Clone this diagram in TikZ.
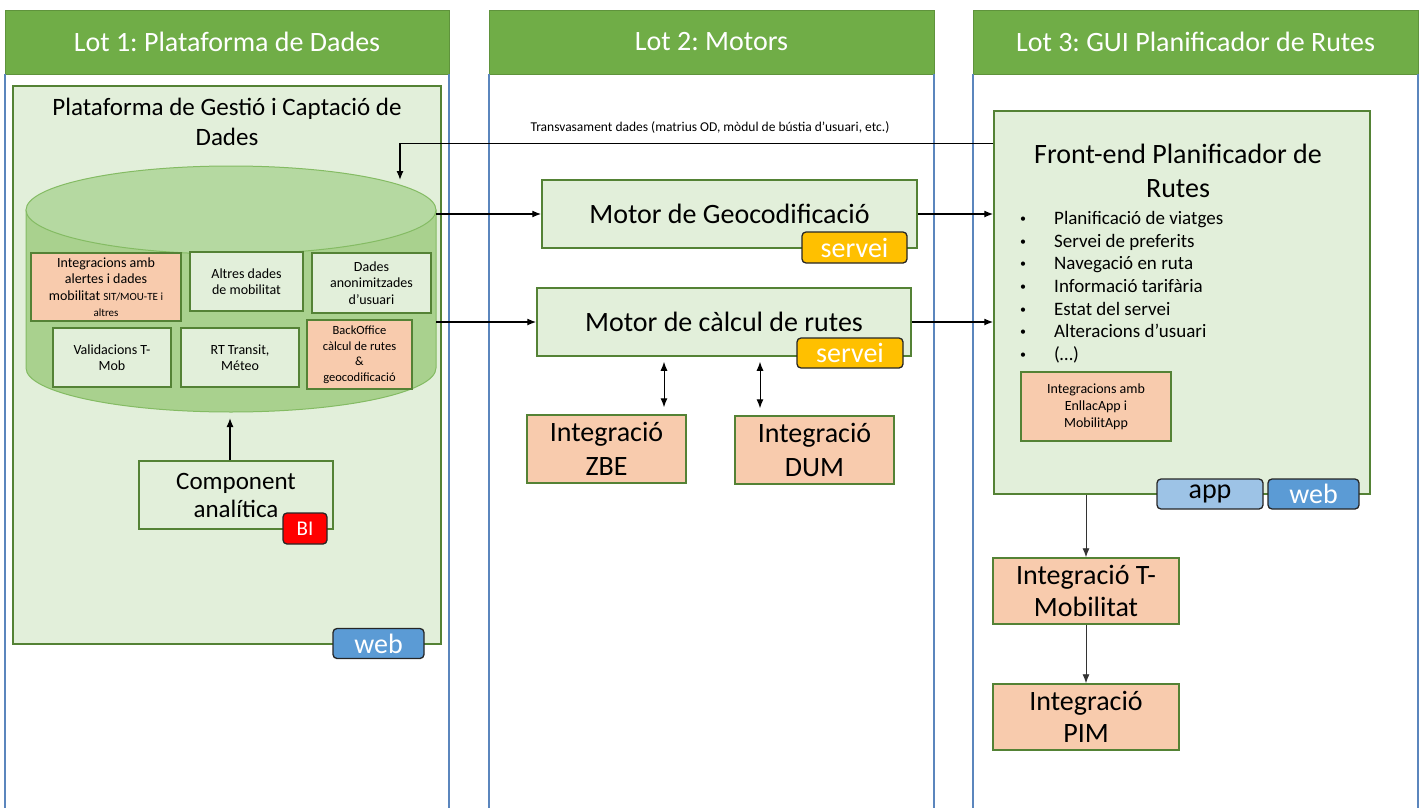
\documentclass[tikz,border=0pt]{standalone}
\usepackage{fontspec}
\setmainfont{Carlito}
\usepackage{tikz}
\usetikzlibrary{positioning, arrows.meta}

\definecolor{lotgreen}{HTML}{70AD47}
\definecolor{boxgreen}{HTML}{E2EFDA}
\definecolor{edgegreen}{HTML}{548235}
\definecolor{salmon}{HTML}{F8CBAD}
\definecolor{dbgreen}{HTML}{A9D18E}
\definecolor{dbtopgreen}{HTML}{B5D9A1}
\definecolor{dbedge}{HTML}{84BB63}
\definecolor{laneblue}{HTML}{5B86BD}
\definecolor{badgeyellow}{HTML}{FFC000}
\definecolor{badgeblue}{HTML}{5B9BD5}
\definecolor{badgelight}{HTML}{9DC3E6}

\newcommand{\frontitem}{\makebox[38pt][l]{\hspace{4pt}\raisebox{2pt}{\fontsize{12}{12}\selectfont\textbullet}}}

\frenchspacing

\begin{document}
\begin{tikzpicture}[x=1pt, y=-1pt, >={Latex[length=9pt, width=7pt]},
    lot/.style={rectangle, draw=lotgreen!85!black, fill=lotgreen, text=white, inner sep=0,
        minimum height=64pt, font=\fontsize{28}{32}\selectfont},
    comp/.style={rectangle, draw=edgegreen, line width=1.5pt, fill=boxgreen, inner sep=1pt, align=center},
    integ/.style={comp, fill=salmon},
    badge/.style={rectangle, rounded corners=4pt, draw=black!85, line width=1.3pt, inner sep=0,
        minimum height=30pt, font=\fontsize{28}{30}\selectfont},
    lane/.style={draw=laneblue, line width=1.5pt},
    link/.style={->, line width=1.3pt}]

    \useasboundingbox (0,0) rectangle (1424,808);

    % Lots
    \node (lot1)[lot, minimum width=444pt] at (227,42) {Lot 1: Plataforma de Dades};
    \node (lot2)[lot, minimum width=445pt] at (711.5,42) {Lot 2: Motors};
    \node (lot3)[lot, minimum width=445pt] at (1195.5,42) {Lot 3: GUI Planificador de Rutes};
    \foreach \l in {lot1,lot2,lot3} {
        \draw[lane] (\l.south west) -- (\l.south west |- 0,808);
        \draw[lane] (\l.south east) -- (\l.south east |- 0,808);
    }

    % Plataforma de dades
    \node (plat)[comp, minimum width=428pt, minimum height=558pt] at (227,365) {};
    \node (platT)[font=\fontsize{25}{30}\selectfont, align=center] at (227,122) {Plataforma de Gestió i Captació de\\Dades};

    % Cylinder
    \filldraw[fill=dbgreen, draw=dbedge, line width=1pt] (26,210) -- (26,368)
        arc[start angle=180, end angle=360, x radius=205pt, y radius=44pt] -- (436,210) -- cycle;
    \filldraw[fill=dbtopgreen, draw=dbedge, line width=1pt] (231,210) ellipse [x radius=205pt, y radius=44pt];
    \node (db)[rectangle, minimum width=410pt, minimum height=246pt] at (231,289) {};
    \coordinate (dbin) at (400,180);
    \coordinate (dbbot) at (230,418);

    \node (alert)[integ, minimum width=150pt, minimum height=68pt, font=\fontsize{14}{16.5}\selectfont] at (106,287)
        {Integracions amb\\alertes i dades\\mobilitat {\fontsize{11}{13}\selectfont SIT/MOU-TE i}\\{\fontsize{11}{13}\selectfont altres}};
    \node (altres)[comp, minimum width=113pt, minimum height=59pt, font=\fontsize{14}{16.5}\selectfont] at (246.5,281.5)
        {Altres dades\\de mobilitat};
    \node (anon)[comp, minimum width=119pt, minimum height=60pt, font=\fontsize{14}{16.5}\selectfont] at (371.5,283)
        {Dades\\anonimitzades\\d’usuari};
    \node (valid)[comp, minimum width=118pt, minimum height=59pt, font=\fontsize{14}{16.5}\selectfont] at (112,357.5)
        {Validacions T-\\Mob};
    \node (rt)[comp, minimum width=118pt, minimum height=59pt, font=\fontsize{14}{16.5}\selectfont] at (240,357.5)
        {RT Transit,\\Méteo};
    \node (back)[integ, minimum width=105pt, minimum height=69pt, font=\fontsize{12.5}{15.5}\selectfont] at (359.5,354.5)
        {BackOffice\\càlcul de rutes\\\&\\geocodificació};

    % Component analitica
    \node (anal)[comp, line width=1.2pt, minimum width=194pt, minimum height=68pt, font=\fontsize{25}{28}\selectfont] at (236,495)
        {Component\\analítica};
    \node (bi)[badge, fill=red, text=white, minimum width=44pt, minimum height=31pt, font=\fontsize{21}{24}\selectfont] at (305,528.5) {BI};
    \node (web1)[badge, fill=badgeblue, text=white, minimum width=91pt] at (378.5,643.5) {web};

    % Motors
    \node (trans)[font=\fontsize{13.5}{16}\selectfont] at (710,127)
        {Transvasament dades (matrius OD, mòdul de bústia d’usuari, etc.)};
    \node (geo)[comp, minimum width=375pt, minimum height=68pt, font=\fontsize{28}{32}\selectfont] at (729.5,214)
        {Motor de Geocodificació};
    \node (serv1)[badge, fill=badgeyellow, text=white, minimum width=105pt, minimum height=31pt] at (854.5,247.5) {servei};
    \node (calc)[comp, minimum width=374pt, minimum height=68pt, font=\fontsize{28}{32}\selectfont] at (724,322)
        {Motor de càlcul de rutes};
    \node (serv2)[badge, fill=badgeyellow, text=white, minimum width=106pt] at (850,353) {servei};
    \node (zbe)[integ, minimum width=159pt, minimum height=68pt, font=\fontsize{28}{34}\selectfont] at (606.5,449)
        {Integració\\ZBE};
    \node (dum)[integ, minimum width=159pt, minimum height=68pt, font=\fontsize{28}{34}\selectfont] at (814.5,450)
        {Integració\\DUM};

    % GUI planificador
    \node (front)[comp, minimum width=376pt, minimum height=383pt] at (1182,302.5) {};
    \node (frontT)[font=\fontsize{28}{34}\selectfont, align=center] at (1178,171) {Front-end Planificador de\\Rutes};
    \node (items)[anchor=north west, inner sep=0, align=left, font=\fontsize{19}{22.7}\selectfont] at (1016,211)
        {\frontitem Planificació de viatges\\
         \frontitem Servei de preferits\\
         \frontitem Navegació en ruta\\
         \frontitem Informació tarifària\\
         \frontitem Estat del servei\\
         \frontitem Alteracions d’usuari\\
         \frontitem (…)};
    \node (enllac)[integ, minimum width=150pt, minimum height=69pt, font=\fontsize{14}{17}\selectfont] at (1096,406.5)
        {Integracions amb\\EnllacApp i\\MobilitApp};
    \node (app)[badge, fill=badgelight, minimum width=106pt] at (1210,494) {app};
    \node (web3)[badge, fill=badgeblue, text=white, minimum width=91pt] at (1313.5,494) {web};
    \node (tmob)[integ, minimum width=186pt, minimum height=66pt, font=\fontsize{28}{32}\selectfont] at (1086,591)
        {Integració T-\\Mobilitat};
    \node (pim)[integ, minimum width=186pt, minimum height=66pt, font=\fontsize{28}{32}\selectfont] at (1086,717)
        {Integració\\PIM};

    % Edges
    \draw[link] ([yshift=-33pt]front.north west) -| (dbin);
    \draw[link] (anal.north -| dbbot) -- (dbbot);
    \draw[link] (db.east |- geo.west) -- (geo.west);
    \draw[link] (db.east |- calc.west) -- (calc.west);
    \draw[link] (geo.east) -- (front.west |- geo.east);
    \draw[link] (calc.east) -- (front.west |- calc.east);
    \draw[<->, line width=1pt, shorten <=5pt, shorten >=7pt] ([xshift=57.5pt]zbe.north |- calc.south) -- ([xshift=57.5pt]zbe.north);
    \draw[<->, line width=1pt, shorten <=5pt, shorten >=7pt] ([xshift=-54.5pt]dum.north |- calc.south) -- ([xshift=-54.5pt]dum.north);
    \draw[->, line width=0.9pt, black!80] (front.south -| tmob.north) -- (tmob.north);
    \draw[->, line width=0.9pt, black!80] (tmob) -- (pim);
\end{tikzpicture}
\end{document}
